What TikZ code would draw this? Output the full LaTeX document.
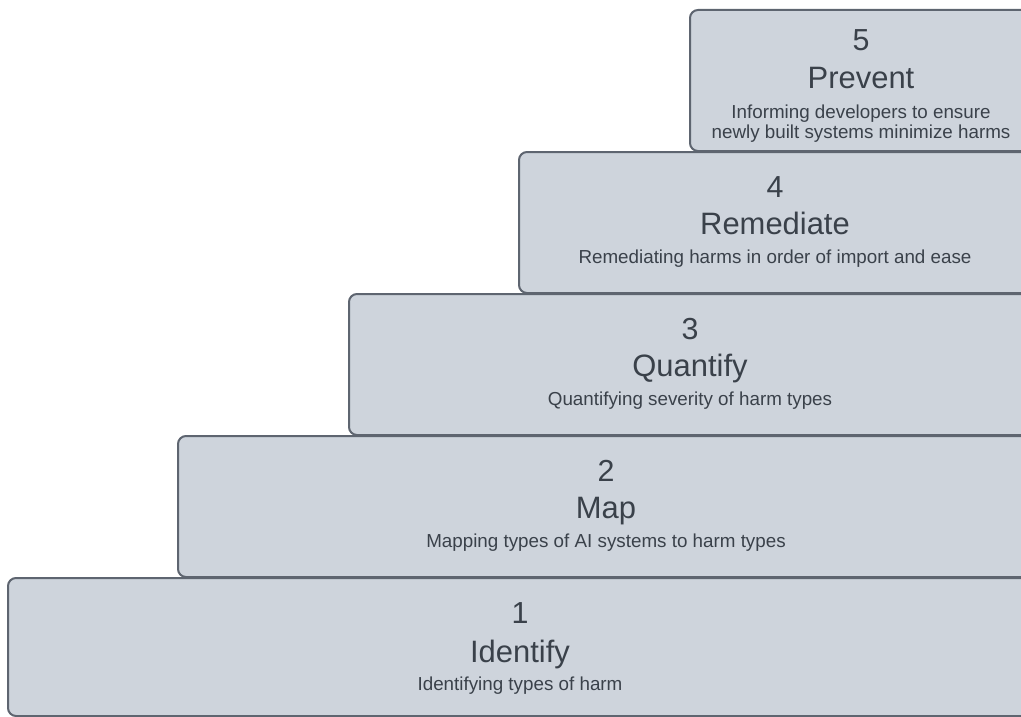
\documentclass[tikz,border=0pt]{standalone}
\usepackage{fontspec}
\setmainfont{Liberation Sans}
\definecolor{boxfill}{HTML}{CED4DC}
\definecolor{boxline}{HTML}{5E6570}
\definecolor{txt}{HTML}{3A414A}
\tikzset{
  stepbox/.style={draw=boxline, fill=boxfill, line width=1.5pt, rounded corners=6pt},
  numtxt/.style={anchor=base, text=txt, inner sep=0pt, font=\fontsize{22.8}{26}\selectfont},
  titletxt/.style={anchor=base, text=txt, inner sep=0pt, font=\fontsize{23.2}{26}\selectfont},
  subtxt/.style={anchor=base, text=txt, inner sep=0pt, font=\fontsize{14.1}{16}\selectfont},
}
\begin{document}
\begin{tikzpicture}[x=0.75pt, y=-0.75pt]
\useasboundingbox (0,0) rectangle (1021,717);
\clip (0,0) rectangle (1021,717);
% boxes
\draw[stepbox] (690,10) rectangle (1032,151);
\draw[stepbox] (519,152) rectangle (1031,293);
\draw[stepbox] (349,294) rectangle (1031,435);
\draw[stepbox] (178,436) rectangle (1034,577);
\draw[stepbox] (8,578) rectangle (1032,716);
% box 5
\node[numtxt] (n5) at (861,51) {5};
\node[titletxt] (t5) at (861,89) {Prevent};
\node[subtxt] (s5a) at (861,118) {Informing developers to ensure};
\node[subtxt] (s5b) at (861,138) {newly built systems minimize harms};
% box 4
\node[numtxt] (n4) at (775,197) {4};
\node[titletxt] (t4) at (775,234) {Remediate};
\node[subtxt] (s4) at (775,263) {Remediating harms in order of import and ease};
% box 3
\node[numtxt] (n3) at (690,339) {3};
\node[titletxt] (t3) at (690,376) {Quantify};
\node[subtxt] (s3) at (690,405) {Quantifying severity of harm types};
% box 2
\node[numtxt] (n2) at (606,481) {2};
\node[titletxt] (t2) at (606,518) {Map};
\node[subtxt] (s2) at (606,547) {Mapping types of AI systems to harm types};
% box 1
\node[numtxt] (n1) at (520,623) {1};
\node[titletxt] (t1) at (520,662) {Identify};
\node[subtxt] (s1) at (520,690) {Identifying types of harm};
\end{tikzpicture}
\end{document}
